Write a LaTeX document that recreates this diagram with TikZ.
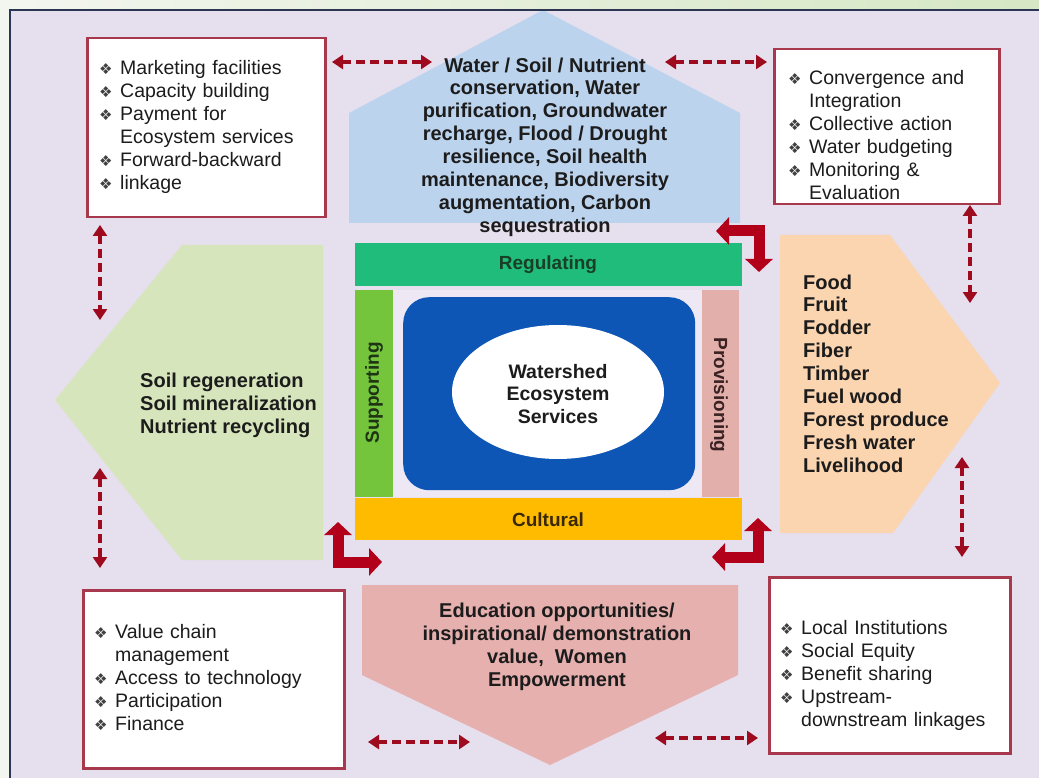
\documentclass[tikz,border=0pt]{standalone}
\usepackage{fontspec}
\setmainfont{Liberation Sans}
\newfontfamily\symfont{DejaVu Sans}
\usetikzlibrary{arrows.meta,shapes.geometric}

\definecolor{pageGreenL}{HTML}{F3F6EF}
\definecolor{pageGreenR}{HTML}{D5E7C4}
\definecolor{panel}{HTML}{E5DFEE}
\definecolor{panelLight}{HTML}{EDE8F4}
\definecolor{frameLine}{HTML}{2C3652}
\definecolor{skyFill}{HTML}{BCD3EE}
\definecolor{leafFill}{HTML}{D7E5BC}
\definecolor{peachFill}{HTML}{FBD4B0}
\definecolor{roseFill}{HTML}{E6B0AF}
\definecolor{regFill}{HTML}{1FBC7C}
\definecolor{supFill}{HTML}{74C43C}
\definecolor{provFill}{HTML}{E2AFAA}
\definecolor{cultFill}{HTML}{FFBB00}
\definecolor{coreBlue}{HTML}{0D56B6}
\definecolor{boxEdge}{HTML}{A8394D}
\definecolor{linkRed}{HTML}{9E0B1F}
\definecolor{bendRed}{HTML}{B3001A}
\definecolor{ink}{HTML}{1C1C1C}
\definecolor{bulletInk}{HTML}{404040}

% bullet item and continuation line for the white list boxes
\newcommand{\bulletmark}{{\symfont\fontsize{15}{15}\selectfont\color{bulletInk}❖}}
\newcommand{\entry}[1]{\par\noindent\makebox[21pt][l]{\bulletmark}#1}
\newcommand{\contline}[1]{\par\noindent\hspace*{21pt}#1}

\tikzset{
  listbox/.style={draw=boxEdge, line width=2.5pt, fill=white, inner sep=0pt, anchor=north west},
  listtext/.style={anchor=north west, inner sep=0pt, text width=230pt, align=left, text=ink,
    font=\fontsize{19.5}{23}\selectfont\setlength{\parskip}{0pt}},
  bigtext/.style={inner sep=0pt, text=ink, font=\bfseries\fontsize{20}{22.9}\selectfont},
  barlabel/.style={inner sep=0pt, font=\bfseries\fontsize{19}{22}\selectfont},
  bandbox/.style={inner sep=0pt, anchor=north west},
  linkarrow/.style={linkRed, line width=4pt, dash pattern=on 9pt off 5pt,
    {Triangle[width=14pt,length=11pt]}-{Triangle[width=14pt,length=11pt]}},
  bendarrow/.style={bendRed, line width=11pt, line join=miter,
    {Triangle[width=27pt,length=13pt]}-{Triangle[width=27pt,length=13pt]}}
}

\begin{document}
\begin{tikzpicture}[x=1pt,y=-1pt]
\useasboundingbox (0,0) rectangle (1039,778);

% page and panel
\shade[left color=pageGreenL, right color=pageGreenR] (0,0) rectangle (1039,778);
\fill[pageGreenL] (0,10) rectangle (10,778);
\fill[panel] (10,10) rectangle (1039,778);

% four service pentagons
\fill[skyFill] (349,223) -- (349,113) -- (543,10) -- (740,113) -- (740,223) -- cycle;
\fill[leafFill] (182,245) -- (323,245) -- (323,560) -- (182,560) -- (55,400) -- cycle;
\fill[peachFill] (780,235) -- (890,235) -- (1000,383) -- (893,533) -- (780,533) -- cycle;
\fill[roseFill] (362,585) -- (738,585) -- (738,675) -- (550,765) -- (362,675) -- cycle;

\node[bigtext, align=center] (regText) at (545,147)
  {Water / Soil / Nutrient\\conservation, Water\\purification, Groundwater\\recharge, Flood / Drought\\resilience, Soil health\\maintenance, Biodiversity\\augmentation, Carbon\\sequestration};
\node[bigtext, align=left, anchor=west] (supText) at (140,405)
  {Soil regeneration\\Soil mineralization\\Nutrient recycling};
\node[bigtext, align=left, anchor=west] (provText) at (803,373.5)
  {Food\\Fruit\\Fodder\\Fiber\\Timber\\Fuel wood\\Forest produce\\Fresh water\\Livelihood};
\node[bigtext, align=center] (cultText) at (557,647)
  {Education opportunities/\\inspirational/ demonstration\\value,\ \ Women\\Empowerment};

% central frame of the four service groups
\fill[panelLight] (393,290) rectangle (702,497);
\node[bandbox, fill=regFill, minimum width=387pt, minimum height=43pt] (reg) at (355,243) {};
\node[bandbox, fill=supFill, minimum width=38pt, minimum height=207pt] (sup) at (355,290) {};
\node[bandbox, fill=provFill, minimum width=37pt, minimum height=207pt] (prov) at (702,290) {};
\node[bandbox, fill=cultFill, minimum width=387pt, minimum height=42pt] (cult) at (355,498) {};
\node[barlabel, text={rgb,255:red,24;green,64;blue,38}] (regLbl) at (548,265) {Regulating};
\node[barlabel, text={rgb,255:red,30;green,52;blue,20}, rotate=90] (supLbl) at (374,393) {Supporting};
\node[barlabel, text={rgb,255:red,58;green,34;blue,34}, rotate=-90] (provLbl) at (719,395) {Provisioning};
\node[barlabel, text={rgb,255:red,56;green,40;blue,6}] (cultLbl) at (548,520) {Cultural};

\node[bandbox, fill=coreBlue, rounded corners=26pt, minimum width=292pt, minimum height=193pt] (core) at (403,297) {};
\node[ellipse, fill=white, inner sep=0pt, minimum width=212pt, minimum height=134pt] (hub) at (558,392) {};
\node[barlabel, align=center, text=ink, font=\bfseries\fontsize{19.5}{22.5}\selectfont] (hubText) at (558,394)
  {Watershed\\Ecosystem\\Services};

% enabling-condition boxes
\node[listbox, minimum width=238pt, minimum height=179pt] (boxTL) at (86,37) {};
\node[listtext] (txtTL) at (99,51.5)
  {\entry{Marketing facilities}\entry{Capacity building}\entry{Payment for}\contline{Ecosystem services}\entry{Forward-backward}\entry{linkage}};

\node[listbox, minimum width=225pt, minimum height=155pt] (boxTR) at (773,48) {};
\node[listtext] (txtTR) at (788,61.5)
  {\entry{Convergence and}\contline{Integration}\entry{Collective action}\entry{Water budgeting}\entry{Monitoring \&}\contline{Evaluation}};

\node[listbox, minimum width=261pt, minimum height=178pt] (boxBL) at (82,589) {};
\node[listtext] (txtBL) at (94,615.5)
  {\entry{Value chain}\contline{management}\entry{Access to technology}\entry{Participation}\entry{Finance}};

\node[listbox, minimum width=241pt, minimum height=176pt] (boxBR) at (768,576) {};
\node[listtext] (txtBR) at (780,611.5)
  {\entry{Local Institutions}\entry{Social Equity}\entry{Benefit sharing}\entry{Upstream-}\contline{downstream linkages}};

% dashed two-way links
\coordinate (lkTLa) at (332,62);  \coordinate (lkTLb) at (432,62);
\coordinate (lkTRa) at (665,62);  \coordinate (lkTRb) at (767,62);
\coordinate (lkL1a) at (100,225); \coordinate (lkL1b) at (100,320);
\coordinate (lkL2a) at (100,468); \coordinate (lkL2b) at (100,568);
\coordinate (lkR1a) at (970,205); \coordinate (lkR1b) at (970,303);
\coordinate (lkR2a) at (962,457); \coordinate (lkR2b) at (962,557);
\coordinate (lkBLa) at (368,742); \coordinate (lkBLb) at (470,742);
\coordinate (lkBRa) at (655,738); \coordinate (lkBRb) at (758,738);
\foreach \p in {TL,TR,L1,L2,R1,R2,BL,BR}
  \draw[linkarrow] (lk\p a) -- (lk\p b);

% bent arrows at the frame corners
\coordinate (bTRa) at (716,231); \coordinate (bTRc) at (759,231); \coordinate (bTRb) at (759,272);
\coordinate (bBLa) at (338,522); \coordinate (bBLc) at (338,562); \coordinate (bBLb) at (382,562);
\coordinate (bBRa) at (758,518); \coordinate (bBRc) at (758,557); \coordinate (bBRb) at (712,557);
\draw[bendarrow] (bTRa) -- (bTRc) -- (bTRb);
\draw[bendarrow] (bBLa) -- (bBLc) -- (bBLb);
\draw[bendarrow] (bBRa) -- (bBRc) -- (bBRb);

% panel frame
\draw[frameLine, line width=2pt] (1039,10) -- (10,10) -- (10,778);
\end{tikzpicture}
\end{document}
